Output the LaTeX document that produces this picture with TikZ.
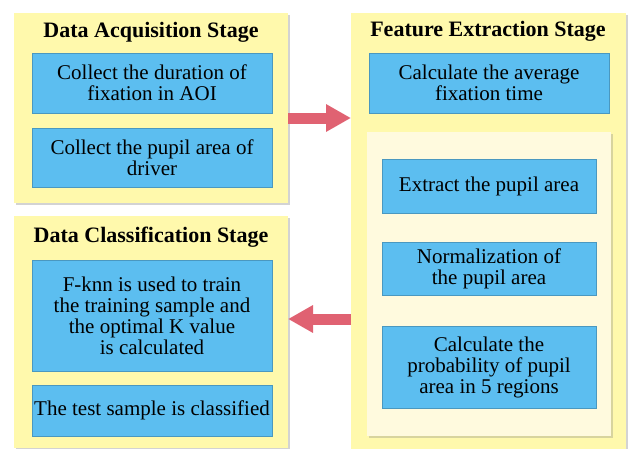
\documentclass[tikz,border=0pt]{standalone}
\usepackage{fontspec}
\setmainfont{Liberation Serif}
\usetikzlibrary{arrows.meta, positioning, shadows}

\definecolor{panelyellow}{RGB}{255,249,172}
\definecolor{innercream}{RGB}{255,250,222}
\definecolor{boxblue}{RGB}{92,190,240}
\definecolor{arrowpink}{RGB}{224,98,114}

\begin{document}
\begin{tikzpicture}[
        x=1pt, y=-1pt,
        panel/.style={fill=panelyellow, anchor=north west, inner sep=0pt, outer sep=0pt,
            drop shadow={opacity=0.35, shadow xshift=2pt, shadow yshift=-2pt}},
        inner/.style={fill=innercream, anchor=north west, inner sep=0pt, outer sep=0pt,
            drop shadow={opacity=0.3, shadow xshift=2pt, shadow yshift=-2pt}},
        box/.style={fill=boxblue, draw=boxblue!80!black, line width=0.4pt, anchor=north west,
            inner sep=0pt, outer sep=0pt, align=center,
            font=\fontsize{21}{21}\selectfont},
        title/.style={font=\fontsize{22}{23}\selectfont\bfseries},
        arr/.style={-{Triangle[width=26pt, length=25pt]}, line width=11pt, arrowpink}
        ]
        \useasboundingbox (0,0) rectangle (628,448);
        % stage panels
        \node[panel, minimum width=274pt, minimum height=190pt] (acq) at (14,13) {};
        \node[panel, minimum width=274pt, minimum height=232pt] (cls) at (14,216) {};
        \node[panel, minimum width=275pt, minimum height=436pt] (ext) at (351,13) {};
        \node[inner, minimum width=244pt, minimum height=304pt] (pup) at (367,132) {};
        % titles
        \node[title] (acqT) at (151,32) {Data Acquisition Stage};
        \node[title] (clsT) at (151,237) {Data Classification Stage};
        \node[title] (extT) at (488,31) {Feature Extraction Stage};
        % data acquisition
        \node[box, minimum width=240pt, minimum height=60pt] (dur) at (32,53) {Collect the duration of\\fixation in AOI};
        \node[box, minimum width=240pt, minimum height=59pt] (area) at (32,128) {Collect the pupil area of\\driver};
        % data classification
        \node[box, minimum width=240pt, minimum height=111pt] (knn) at (32,260) {F-knn is used to train\\the training sample and\\the optimal K value\\is calculated};
        \node[box, minimum width=240pt, minimum height=51pt] (test) at (32,385) {The test sample is classified};
        % feature extraction
        \node[box, minimum width=240pt, minimum height=60pt] (avg) at (369,53) {Calculate the average\\fixation time};
        \node[box, minimum width=214pt, minimum height=54pt] (extr) at (382,159) {Extract the pupil area};
        \node[box, minimum width=214pt, minimum height=53pt] (norm) at (382,242) {Normalization of\\the pupil area};
        \node[box, minimum width=214pt, minimum height=82pt] (prob) at (382,326) {Calculate the\\probability of pupil\\area in 5 regions};
        % flow between stages
        \draw[arr] ([yshift=-10pt]acq.east) -- ([yshift=-10pt]acq.east -| ext.west);
        \draw[arr] ([yshift=13pt]cls.east -| ext.west) -- ([yshift=13pt]cls.east);
    \end{tikzpicture}
\end{document}
